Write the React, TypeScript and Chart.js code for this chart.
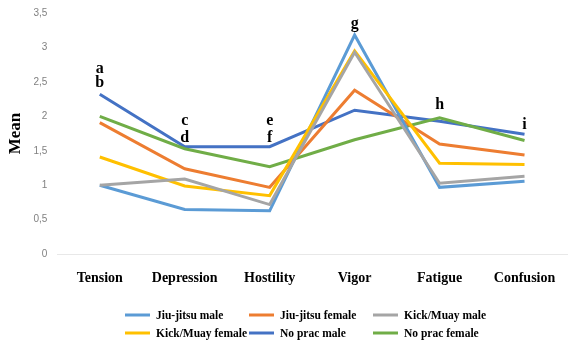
import React, { useEffect, useRef } from "react";
import { Chart, registerables } from "chart.js";

Chart.register(...registerables);

const categories = ["Tension", "Depression", "Hostility", "Vigor", "Fatigue", "Confusion"];
const seriesNames = ["Jiu-jitsu male", "Jiu-jitsu female", "Kick/Muay male", "Kick/Muay female", "No prac male", "No prac female"];
const seriesColors = ["#5B9BD5", "#ED7D31", "#A5A5A5", "#FFC000", "#4472C4", "#70AD47"];

const jiuJitsuMale = [1.0, 0.65, 0.63, 3.18, 0.97, 1.06];
const jiuJitsuFemale = [1.91, 1.24, 0.97, 2.38, 1.6, 1.44];
const kickMuayMale = [1.0, 1.09, 0.72, 2.93, 1.03, 1.13];
const kickMuayFemale = [1.41, 0.99, 0.85, 2.95, 1.32, 1.3];
const noPracMale = [2.32, 1.56, 1.56, 2.09, 1.93, 1.74];
const noPracFemale = [2.0, 1.53, 1.27, 1.66, 1.98, 1.65];

const seriesValues = [jiuJitsuMale, jiuJitsuFemale, kickMuayMale, kickMuayFemale, noPracMale, noPracFemale];

const yTicks = [0, 0.5, 1, 1.5, 2, 2.5, 3, 3.5];

// significance letters: category index, y value, text
const letterCats = [0, 0, 1, 1, 2, 2, 3, 4, 5];
const letterValues = [2.69, 2.49, 1.93, 1.69, 1.93, 1.69, 3.34, 2.16, 1.88];
const letterTexts = ["a", "b", "c", "d", "e", "f", "g", "h", "i"];

const drawOrder = [2, 3, 0, 1, 5, 4];

const extrasPlugin = {
  id: "extras",
  afterDatasetsDraw(chart: any) {
    const ctx = chart.ctx;
    const x = chart.scales.x;
    const y = chart.scales.y;
    ctx.save();
    ctx.fillStyle = "#000";
    ctx.font = "bold 16px 'Liberation Serif', serif";
    ctx.textAlign = "center";
    ctx.textBaseline = "middle";
    letterTexts.forEach((t, i) => {
      ctx.fillText(t, x.getPixelForValue(letterCats[i]), y.getPixelForValue(letterValues[i]));
    });

    // legend grid 3 columns x 2 rows
    const left = 125;
    const colW = 124;
    const top = 315;
    const rowH = 18;
    ctx.font = "bold 11.5px 'Liberation Serif', serif";
    ctx.textAlign = "left";
    seriesNames.forEach((name, i) => {
      const col = i % 3;
      const row = Math.floor(i / 3);
      const lx = left + col * colW;
      const ly = top + row * rowH;
      ctx.strokeStyle = seriesColors[i];
      ctx.lineWidth = 3;
      ctx.beginPath();
      ctx.moveTo(lx, ly);
      ctx.lineTo(lx + 25, ly);
      ctx.stroke();
      ctx.fillStyle = "#000";
      ctx.fillText(name, lx + 31, ly + 1);
    });
    ctx.restore();
  },
};

export default function App() {
  const ref = useRef<HTMLCanvasElement>(null);
  useEffect(() => {
    document.body.style.margin = "0";
    const datasets = drawOrder.map((i) => ({
      label: seriesNames[i],
      data: seriesValues[i],
      borderColor: seriesColors[i],
      backgroundColor: seriesColors[i],
      borderWidth: 3,
      pointRadius: 0,
      tension: 0,
      fill: false,
    }));
    const chart = new Chart(ref.current as HTMLCanvasElement, {
      type: "line",
      data: { labels: categories, datasets },
      options: {
        animation: false,
        responsive: false,
        devicePixelRatio: 1,
        layout: { padding: { left: 5, right: 16, top: 13, bottom: 53 } },
        plugins: { legend: { display: false }, tooltip: { enabled: false } },
        scales: {
          x: {
            offset: true,
            grid: { display: false },
            border: { color: "#e8e8e8", width: 1 },
            ticks: {
              color: "#000",
              padding: 8,
              font: { family: "'Liberation Serif', serif", size: 14, weight: "bold" },
              maxRotation: 0,
            },
          },
          y: {
            min: 0,
            max: 3.5,
            afterBuildTicks: (s: any) => {
              s.ticks = yTicks.map((v) => ({ value: v }));
            },
            grid: { display: false },
            border: { display: false },
            ticks: {
              color: "#808080",
              padding: 2,
              font: { family: "'Liberation Sans', sans-serif", size: 10 },
              callback: (v: any) => String(v).replace(".", ","),
            },
            title: {
              display: true,
              text: "Mean",
              color: "#000",
              font: { family: "'Liberation Serif', serif", size: 17, weight: "bold" },
              padding: { top: 0, bottom: 6 },
            },
          },
        },
      },
      plugins: [extrasPlugin],
    });
    return () => chart.destroy();
  }, []);
  return <canvas ref={ref} width={583} height={348} />;
}
